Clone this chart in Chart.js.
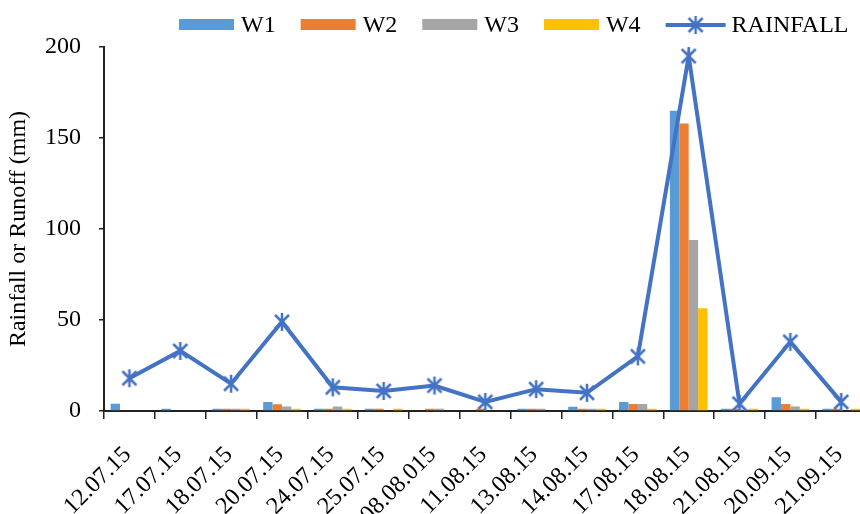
<!DOCTYPE html>
<html><head><meta charset="utf-8">
<script src="https://cdn.jsdelivr.net/npm/chart.js@4/dist/chart.umd.min.js"></script>
<style>html,body{margin:0;padding:0;overflow:hidden;background:#fff}#wrap{width:884px;height:514px;position:relative}</style>
</head><body><div id="wrap"><canvas id="c" width="884" height="514" style="width:884px;height:514px"></canvas></div>
<script>
const categories = ['12.07.15','17.07.15','18.07.15','20.07.15','24.07.15','25.07.15','08.08.015','11.08.15','13.08.15','14.08.15','17.08.15','18.08.15','21.08.15','20.09.15','21.09.15'];
const w1 = [4, 1.3, 1.3, 5, 1.2, 1.2, 0, 0, 1.2, 2.4, 5, 165, 1.2, 7.5, 1.2];
const w2 = [0, 0, 1.3, 3.7, 1.2, 1.2, 1.2, 1.2, 1.2, 1.2, 3.8, 158, 1.2, 3.8, 1.2];
const w3 = [0, 0, 1.3, 2.5, 2.5, 0, 1.2, 0, 1.2, 1.2, 3.8, 94, 0.8, 2.5, 0];
const w4 = [0, 0, 1.3, 1.2, 1.2, 1.2, 0, 0, 0, 1.2, 1.2, 56.5, 1.2, 1.2, 1.3];
const rainfall = [18, 33, 15, 49, 13, 11, 14, 5, 12, 10, 30, 195, 4, 38, 5];
const yMin = 0, yMax = 200, yStep = 50;

const FONT = "'Liberation Serif', 'Times New Roman', serif";
const LINE_COLOR = '#4472C4';

function makeStar(){
  const s = 24, c = document.createElement('canvas');
  c.width = s; c.height = s;
  const g = c.getContext('2d'), m = s/2;
  g.strokeStyle = LINE_COLOR; g.lineWidth = 2.5;
  g.beginPath();
  g.moveTo(m-7, m-7); g.lineTo(m+7, m+7);
  g.moveTo(m+7, m-7); g.lineTo(m-7, m+7);
  g.moveTo(m, m-9); g.lineTo(m, m+9);
  g.stroke();
  return c;
}
const star = makeStar();

const legendPlugin = {
  id: 'customLegend',
  afterDraw(chart){
    const ctx = chart.ctx;
    const ds = chart.data.datasets;
    ctx.save();
    ctx.font = "24px " + FONT;
    ctx.textBaseline = 'middle';
    ctx.fillStyle = '#000';
    let x = 179; const y = 25;
    const order = [1,2,3,4,0];
    order.forEach(i => {
      const d = ds[i];
      if (d.type === 'line') {
        ctx.strokeStyle = LINE_COLOR; ctx.lineWidth = 4;
        ctx.beginPath(); ctx.moveTo(x, y); ctx.lineTo(x+60, y); ctx.stroke();
        ctx.drawImage(star, x+30-star.width/2, y-star.height/2);
        x += 66;
      } else {
        ctx.fillStyle = d.backgroundColor;
        ctx.fillRect(x, y-6, 55, 11);
        x += 62;
      }
      ctx.fillStyle = '#000';
      ctx.textAlign = 'left';
      ctx.fillText(d.label, x, y+1);
      x += ctx.measureText(d.label).width + 25;
    });
    ctx.restore();
  }
};

new Chart(document.getElementById('c'), {
  data: {
    labels: categories,
    datasets: [
      { type:'line', label:'RAINFALL', data: rainfall, borderColor: LINE_COLOR, backgroundColor: LINE_COLOR, borderWidth: 4, tension: 0, pointStyle: star, pointRadius: 9, order: 0 },
      { type:'bar', label:'W1', data: w1, backgroundColor:'#5B9BD5', order: 1 },
      { type:'bar', label:'W2', data: w2, backgroundColor:'#ED7D31', order: 1 },
      { type:'bar', label:'W3', data: w3, backgroundColor:'#A5A5A5', order: 1 },
      { type:'bar', label:'W4', data: w4, backgroundColor:'#FFC000', order: 1 }
    ]
  },
  options: {
    responsive: false, animation: false,
    datasets: { bar: { categoryPercentage: 0.74, barPercentage: 1.0 } },
    layout: { padding: { top: 47, right: 3, left: 0, bottom: 0 } },
    plugins: { legend: { display: false }, tooltip: { enabled: false } },
    scales: {
      x: {
        offset: true,
        grid: { offset: true, drawOnChartArea: false, drawTicks: true, tickLength: 8, color: '#222', lineWidth: 1.5 },
        border: { color: '#222', width: 2 },
        ticks: { autoSkip: false, maxRotation: 45, minRotation: 45, labelOffset: -2, padding: 22, color: '#000', font: { family: FONT, size: 24 } },
        afterFit(s){ s.height = 103; }
      },
      y: {
        min: yMin, max: yMax,
        grid: { drawOnChartArea: false, drawTicks: true, tickLength: 5, color: '#222', lineWidth: 1.5 },
        border: { color: '#222', width: 2 },
        ticks: { stepSize: yStep, padding: 18, color: '#000', font: { family: FONT, size: 24 } },
        title: { display: true, text: 'Rainfall or Runoff (mm)', color: '#000', font: { family: FONT, size: 24 }, padding: { top: 4, bottom: 0 } },
        afterFit(s){ s.width = 104; }
      }
    }
  },
  plugins: [legendPlugin]
});
</script></body></html>
